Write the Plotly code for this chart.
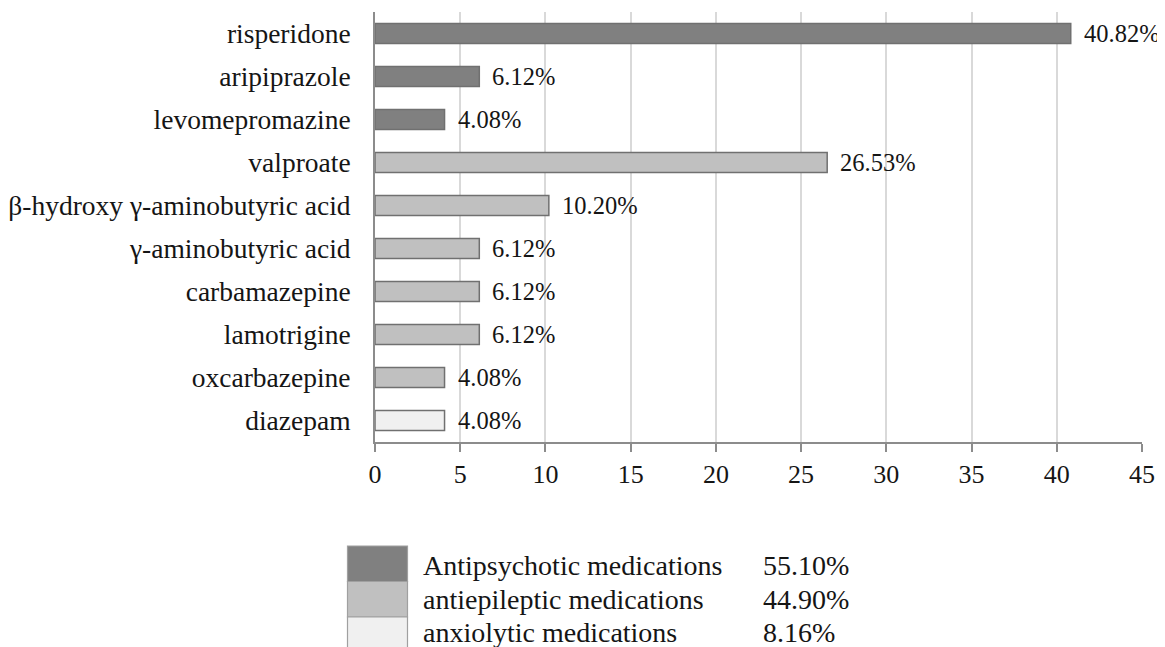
import plotly.graph_objects as go

drugs = ["risperidone", "aripiprazole", "levomepromazine", "valproate",
         "β-hydroxy γ-aminobutyric acid", "γ-aminobutyric acid", "carbamazepine",
         "lamotrigine", "oxcarbazepine", "diazepam"]
values = [40.82, 6.12, 4.08, 26.53, 10.20, 6.12, 6.12, 6.12, 4.08, 4.08]
groups = ["Antipsychotic", "Antipsychotic", "Antipsychotic", "Antiepileptic",
          "Antiepileptic", "Antiepileptic", "Antiepileptic", "Antiepileptic",
          "Antiepileptic", "Anxiolytic"]
legend_names = ["Antipsychotic medications", "antiepileptic medications", "anxiolytic medications"]
legend_pcts = ["55.10%", "44.90%", "8.16%"]
x_ticks = [0, 5, 10, 15, 20, 25, 30, 35, 40, 45]

group_colors = {"Antipsychotic": "#808080", "Antiepileptic": "#c0c0c0", "Anxiolytic": "#f0f0f0"}
legend_colors = ["#808080", "#c0c0c0", "#f0f0f0"]

# page body has an 8px default margin; compensate so the picture lines up
OFF = 8
W, H = 1165 - OFF, 647 - OFF
PL, PR, PT, PB = 375, 1142, 12, 442  # plot area in screenshot pixels
L, T = PL - OFF, PT - OFF
pw, ph = PR - PL, PB - PT
R = W - L - pw
B = H - T - ph

def px_x(x):
    return (x - PL) / pw

def px_y(y):
    return (PB - y) / ph

font = "Liberation Serif, Times New Roman, serif"
ink = "#151515"

fig = go.Figure(go.Bar(
    y=drugs, x=values, orientation="h",
    marker=dict(color=[group_colors[g] for g in groups],
                line=dict(color="#707070", width=1.5)),
    width=0.465,
    showlegend=False, hoverinfo="x+y",
))

annotations = []
for d, v in zip(drugs, values):
    annotations.append(dict(x=v, y=d, xref="x", yref="y", text=f"{v:.2f}%",
                            showarrow=False, xanchor="left", yanchor="middle",
                            xshift=11, font=dict(family=font, size=24.5, color=ink)))

shapes = []
row_tops = [546, 581.5, 617]
row_bottoms = [581.5, 617, 660]
text_centers = [565, 599.5, 632]
for name, pct, col, y0, y1, yt in zip(legend_names, legend_pcts, legend_colors,
                                      row_tops, row_bottoms, text_centers):
    shapes.append(dict(type="rect", xref="paper", yref="paper",
                       x0=px_x(347.5), x1=px_x(407.5), y0=px_y(y1), y1=px_y(y0),
                       fillcolor=col, line=dict(color="#a0a0a0", width=1.2), layer="above"))
    yc = px_y(yt)
    annotations.append(dict(xref="paper", yref="paper", x=px_x(421), y=yc,
                            text=name, showarrow=False, xanchor="left", yanchor="middle",
                            font=dict(family=font, size=28, color=ink)))
    annotations.append(dict(xref="paper", yref="paper", x=px_x(761), y=yc,
                            text=pct, showarrow=False, xanchor="left", yanchor="middle",
                            font=dict(family=font, size=28, color=ink)))

fig.update_layout(
    width=W, height=H,
    margin=dict(l=L, r=R, t=T, b=B, autoexpand=False),
    plot_bgcolor="white", paper_bgcolor="white",
    font=dict(family=font, size=26, color=ink),
    xaxis=dict(range=[0, 45], tickvals=x_ticks, ticktext=[str(t) for t in x_ticks],
               showgrid=True, gridcolor="#d9d9d9", gridwidth=1.8,
               showline=True, linecolor="#8c8c8c", linewidth=1.8,
               ticks="outside", ticklen=8, tickcolor="#8c8c8c", tickwidth=1.8,
               tickfont=dict(family=font, size=26, color=ink), zeroline=False,
               automargin=False),
    yaxis=dict(categoryorder="array", categoryarray=drugs, autorange="reversed",
               showline=True, linecolor="#8c8c8c", linewidth=1.8,
               ticks="", ticklabelstandoff=17, automargin=False,
               tickfont=dict(family=font, size=27.5, color=ink)),
    shapes=shapes, annotations=annotations,
)

fig.write_html("out.html")
